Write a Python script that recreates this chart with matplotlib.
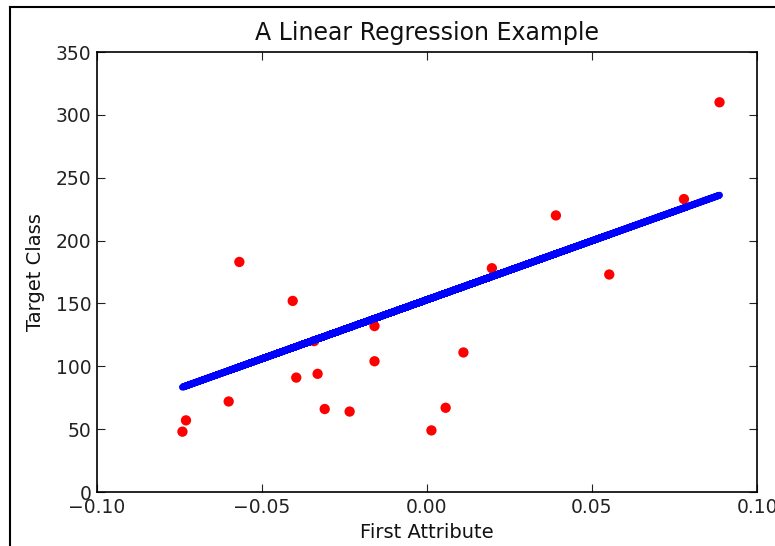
import matplotlib
matplotlib.use("Agg")
import matplotlib.pyplot as plt
from matplotlib.lines import Line2D

# Data (diabetes test set, first attribute)
x_values = [0.07786339, -0.03961813, 0.01103904, -0.04069594, -0.03422907,
            0.00564998, 0.08864151, -0.03315126, -0.05686312, -0.03099563,
            0.05522933, -0.06009656, 0.00133873, -0.02345095, -0.07410811,
            0.01966154, -0.01590626, -0.01590626, 0.03906215, -0.0730303]
y_values = [233, 91, 111, 152, 120, 67, 310, 94, 183, 66,
            173, 72, 49, 64, 48, 178, 104, 132, 220, 57]
y_predicted = [225.97, 115.75, 163.28, 114.74, 120.80, 158.22, 236.09, 121.82,
               99.57, 123.84, 204.74, 96.53, 154.18, 130.92, 83.39, 171.37,
               138.00, 138.00, 189.57, 84.40]
x_ticks = [-0.10, -0.05, 0.00, 0.05, 0.10]
y_ticks = [0, 50, 100, 150, 200, 250, 300, 350]

plt.rcParams['font.family'] = ['DejaVu Sans']
W, H = 775, 546
fig = plt.figure(figsize=(W / 100, H / 100), dpi=100)
ax = fig.add_axes([97 / W, 1 - 492 / H, (757 - 97) / W, (492 - 52) / H])

ax.scatter(x_values, y_values, color='red', s=55, edgecolors='none', zorder=2)
ax.plot(x_values, y_predicted, color='blue', linewidth=5, zorder=3)

ax.set_xlim(-0.1, 0.1)
ax.set_ylim(0, 350)
ax.set_xticks(x_ticks)
ax.set_yticks(y_ticks)
ax.set_xticklabels([f"{t:.2f}".replace('-', '\u2212') for t in x_ticks])
ax.tick_params(direction='in', length=6, width=0.8, top=True, right=True,
               labelsize=13.5, colors='#222222', pad=4)
for s in ax.spines.values():
    s.set_linewidth(1.2)
ax.set_title("A Linear Regression Example", fontsize=17, pad=8.5, color='#111111')
ax.set_xlabel("First Attribute", fontsize=14, labelpad=4.5, color='#111111')
ax.set_ylabel("Target Class", fontsize=14, labelpad=8, color='#111111')

# screenshot border lines
fig.add_artist(Line2D([10 / W, 10 / W], [0, 1 - 7 / H], color='black', lw=1.5,
                      transform=fig.transFigure))
fig.add_artist(Line2D([10 / W, 1], [1 - 7 / H, 1 - 7 / H], color='black', lw=1.5,
                      transform=fig.transFigure))

fig.savefig("out.png", dpi=100)
